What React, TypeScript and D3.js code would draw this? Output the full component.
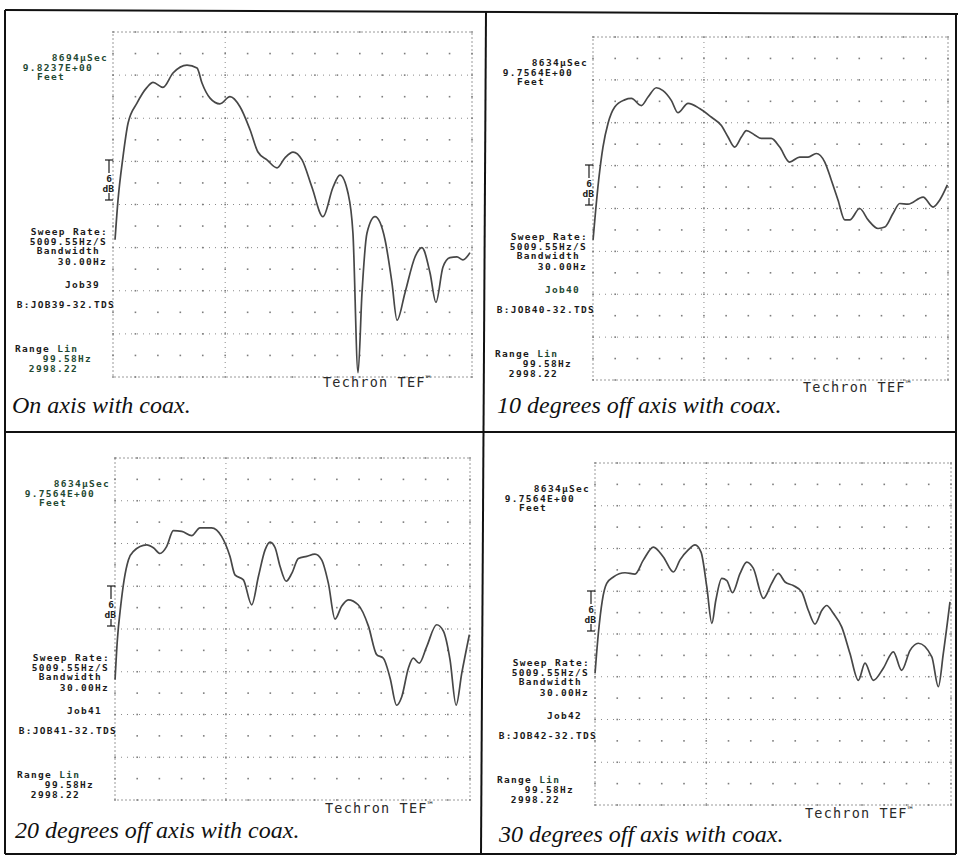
import React from "react";
import * as d3 from "d3";

// Frequency axis (linear sweep) and level axis (dB relative to top of plot)
const F_MIN = 99.58;
const F_MAX = 2998.22;
const DB_MIN = -48;
const DB_MAX = 0;

// On axis
const freq1 = [116, 140, 180, 221, 293, 374, 423, 503, 584, 697, 778, 818, 883, 963, 1044, 1125, 1206, 1270, 1343, 1424, 1488, 1553, 1626, 1706, 1795, 1876, 1932, 1997, 2037, 2078, 2110, 2150, 2215, 2296, 2352, 2393, 2457, 2538, 2594, 2659, 2707, 2764, 2820, 2877, 2925, 2982];
const db1 = [-28.9, -23.4, -17.4, -12.7, -9.9, -7.7, -7.0, -7.7, -5.7, -4.6, -5.0, -7.1, -9.2, -10.0, -9.0, -10.4, -13.6, -16.7, -17.8, -18.9, -17.5, -16.7, -17.8, -21.6, -25.7, -21.6, -19.9, -22.4, -28.0, -47.4, -36.3, -28.0, -25.7, -28.9, -34.9, -40.1, -36.3, -31.3, -30.0, -33.5, -37.6, -32.7, -31.4, -31.3, -31.7, -30.7];

// 10 degrees off axis
const freq2 = [100, 119, 146, 181, 222, 277, 358, 413, 494, 549, 617, 671, 740, 793, 876, 970, 1065, 1148, 1202, 1256, 1311, 1352, 1419, 1474, 1555, 1624, 1705, 1787, 1856, 1923, 1992, 2045, 2100, 2155, 2196, 2277, 2346, 2427, 2482, 2549, 2604, 2671, 2795, 2876, 2931, 2993];
const db2 = [-28.4, -24.7, -20.0, -15.4, -12.1, -9.8, -8.8, -8.6, -9.6, -8.4, -7.1, -7.5, -8.9, -10.6, -9.3, -10.0, -11.2, -12.4, -14.0, -15.4, -14.0, -13.1, -13.7, -14.2, -14.2, -15.4, -17.5, -16.8, -16.8, -16.3, -17.5, -20.0, -22.8, -25.6, -25.6, -24.0, -25.6, -26.8, -26.6, -24.7, -23.3, -23.4, -22.4, -23.8, -22.8, -20.7];

// 20 degrees off axis
const freq3 = [100, 119, 146, 174, 209, 250, 358, 413, 467, 522, 576, 645, 726, 793, 888, 970, 1038, 1079, 1148, 1216, 1271, 1325, 1366, 1407, 1447, 1497, 1543, 1597, 1665, 1732, 1787, 1842, 1896, 1950, 2004, 2085, 2169, 2236, 2291, 2346, 2399, 2441, 2495, 2535, 2584, 2644, 2726, 2781, 2835, 2885, 2931, 2993];
const db3 = [-31.1, -25.5, -20.8, -17.1, -14.3, -13.1, -12.2, -12.6, -13.4, -12.4, -10.2, -10.3, -10.9, -9.8, -9.8, -11.0, -13.8, -16.4, -17.1, -20.6, -16.6, -12.9, -11.8, -12.6, -15.2, -17.3, -16.2, -14.1, -13.8, -13.5, -14.3, -17.6, -22.6, -20.8, -19.9, -20.6, -23.6, -27.6, -28.1, -30.9, -34.7, -33.5, -29.5, -28.1, -28.8, -26.5, -23.4, -24.3, -28.3, -34.7, -30.2, -24.8];

// 30 degrees off axis
const freq4 = [100, 127, 159, 195, 249, 344, 425, 494, 575, 656, 738, 792, 859, 914, 963, 1010, 1051, 1083, 1132, 1173, 1219, 1281, 1335, 1389, 1471, 1538, 1592, 1647, 1714, 1783, 1837, 1891, 1946, 1986, 2040, 2108, 2175, 2244, 2298, 2366, 2447, 2529, 2596, 2665, 2732, 2842, 2895, 2936, 2990];
const db4 = [-29.5, -23.9, -19.3, -16.9, -16.0, -15.4, -15.6, -13.6, -11.8, -13.2, -15.3, -13.6, -12.2, -11.5, -12.5, -17.4, -22.5, -19.3, -16.2, -16.5, -18.2, -15.5, -13.9, -14.8, -19.0, -16.9, -15.5, -16.7, -17.2, -18.1, -20.7, -22.6, -20.7, -20.0, -21.1, -23.0, -26.7, -30.5, -28.1, -30.5, -28.8, -26.5, -29.1, -26.3, -25.3, -27.2, -31.4, -26.7, -19.5];

const captions = [
  "On axis with coax.",
  "10 degrees off axis with coax.",
  "20 degrees off axis with coax.",
  "30 degrees off axis with coax.",
];
const timeLabels = ["8694µSec", "8634µSec", "8634µSec", "8634µSec"];
const distLabels = ["9.8237E+00", "9.7564E+00", "9.7564E+00", "9.7564E+00"];
const jobLabels = ["Job39", "Job40", "Job41", "Job42"];
const fileLabels = ["B:JOB39-32.TDS", "B:JOB40-32.TDS", "B:JOB41-32.TDS", "B:JOB42-32.TDS"];
const sweepLabel = "5009.55Hz/S";
const bandwidthLabel = "30.00Hz";
const rangeLow = "99.58Hz";
const rangeHigh = "2998.22";

const seriesFreq = [freq1, freq2, freq3, freq4];
const seriesDb = [db1, db2, db3, db4];

// panel plot-area geometry (left, top, width, height) and caption placement
const panels = [
  { x: 113, y: 32, w: 359, h: 345, cx: 12, cy: 413 },
  { x: 593, y: 37, w: 355, h: 343, cx: 497, cy: 413 },
  { x: 115, y: 458, w: 355, h: 342, cx: 15, cy: 838 },
  { x: 595, y: 463, w: 356, h: 342, cx: 499, cy: 842 },
];

const MONO = "'DejaVu Sans Mono', 'Liberation Mono', monospace";
const INK = "#1b1b1b";
const GREEN = "#1f4a33";

function Panel({ idx }: { idx: number }) {
  const p = panels[idx];
  const x = d3.scaleLinear().domain([F_MIN, F_MAX]).range([0, p.w]);
  const y = d3.scaleLinear().domain([DB_MIN, DB_MAX]).range([p.h, 0]);
  const data = seriesFreq[idx].map((f, i) => [f, seriesDb[idx][i]] as [number, number]);
  const line = d3
    .line<[number, number]>()
    .x((d) => x(d[0]))
    .y((d) => y(d[1]))
    .curve(d3.curveMonotoneX);

  const colVals = d3.range(0, 17).map((i) => F_MIN + (i * (F_MAX - F_MIN)) / 16);
  const rowVals = d3.range(0, 17).map((i) => DB_MIN + i * 3);
  const majorRows = rowVals.filter((v, i) => i % 2 === 0 && i > 0 && i < 16);
  const dots: [number, number][] = [];
  colVals.forEach((c) => rowVals.forEach((r) => dots.push([c, r])));

  const tcol = idx === 0 || idx === 2 ? GREEN : INK;
  const fs = 9.5;
  const ls = 1.3;
  return (
    <g transform={`translate(${p.x},${p.y})`}>
      {/* frame */}
      <rect x={0} y={0} width={p.w} height={p.h} fill="none" stroke="#9a9a9a" strokeWidth={1} strokeDasharray="2,2" />
      {/* major horizontal dotted lines */}
      {majorRows.map((r, i) => (
        <line key={"mr" + i} x1={0} x2={p.w} y1={y(r)} y2={y(r)} stroke="#8a8a8a" strokeWidth={1} strokeDasharray="1,5" />
      ))}
      {/* vertical dotted line */}
      <line x1={x(colVals[5])} x2={x(colVals[5])} y1={0} y2={p.h} stroke="#8a8a8a" strokeWidth={1} strokeDasharray="1,4" />
      {/* grid dots */}
      {dots.map((d, i) => (
        <rect key={"d" + i} x={x(d[0]) - 0.8} y={y(d[1]) - 0.8} width={1.6} height={1.6} fill="#7d7d7d" />
      ))}
      {/* response curve */}
      <path d={line(data) || ""} fill="none" stroke="#474747" strokeWidth={1.7} strokeLinejoin="round" />

      {/* left info text */}
      <g fontFamily={MONO} fontSize={fs} fontWeight="bold" fill={INK} letterSpacing={ls}>
        <text x={-5} y={29} textAnchor="end" fill={tcol}>{timeLabels[idx]}</text>
        <text x={-20} y={38.5} textAnchor="end" fill={tcol}>{distLabels[idx]}</text>
        <text x={-48} y={48} textAnchor="end" fill={tcol}>Feet</text>
        <text x={-5} y={203} textAnchor="end">Sweep Rate:</text>
        <text x={-6} y={212.5} textAnchor="end">{sweepLabel}</text>
        <text x={-13} y={222} textAnchor="end">Bandwidth</text>
        <text x={-6} y={233} textAnchor="end">{bandwidthLabel}</text>
        <text x={-13} y={256} textAnchor="end" fill={idx === 1 ? GREEN : INK}>{jobLabels[idx]}</text>
        <text x={2} y={276} textAnchor="end">{fileLabels[idx]}</text>
        <text x={-98} y={320} textAnchor="start">Range <tspan fill={GREEN}>Lin</tspan></text>
        <text x={-21} y={329.5} textAnchor="end" fill={idx === 0 ? GREEN : INK}>{rangeLow}</text>
        <text x={-35} y={340} textAnchor="end" fill={idx === 0 ? GREEN : INK}>{rangeHigh}</text>
      </g>

      {/* 6 dB marker */}
      <g stroke={INK} strokeWidth={1.2}>
        <line x1={-8} x2={0} y1={128} y2={128} />
        <line x1={-4} x2={-4} y1={128} y2={141} />
        <line x1={-4} x2={-4} y1={161} y2={168} />
        <line x1={-8} x2={0} y1={168} y2={168} />
      </g>
      <g fontFamily={MONO} fontSize={9.5} fontWeight="bold" fill={INK}>
        <text x={-4} y={150} textAnchor="middle">6</text>
        <text x={1} y={159.5} textAnchor="end">dB</text>
      </g>

      {/* brand */}
      <text x={210} y={355} fontFamily={MONO} fontSize={13.5} fill="#2a2a2a" letterSpacing={1.2}>
        Techron TEF<tspan fontSize={9} dy={-5}>™</tspan>
      </text>
    </g>
  );
}

export default function App() {
  return (
    <svg
      width={958}
      height={858}
      viewBox="0 0 958 858"
      style={{ position: "absolute", left: 0, top: 0, background: "#fff" }}
    >
      <rect x={0} y={0} width={958} height={858} fill="#fff" />
      {/* outer frame and dividers */}
      <g stroke="#111" strokeWidth={2} fill="none">
        <line x1={5} y1={10} x2={958} y2={14} />
        <line x1={5} y1={10} x2={5} y2={854} />
        <line x1={5} y1={854} x2={956} y2={854} />
        <line x1={956} y1={13} x2={956} y2={854} />
        <line x1={5} y1={432} x2={956} y2={432} />
        <line x1={486} y1={11} x2={481} y2={854} />
      </g>
      {panels.map((_, i) => (
        <Panel key={i} idx={i} />
      ))}
      {panels.map((p, i) => (
        <text
          key={"c" + i}
          x={p.cx}
          y={p.cy}
          fontFamily="'Liberation Serif', 'DejaVu Serif', serif"
          fontStyle="italic"
          fontSize={24}
          fill="#111"
        >
          {captions[i]}
        </text>
      ))}
    </svg>
  );
}
